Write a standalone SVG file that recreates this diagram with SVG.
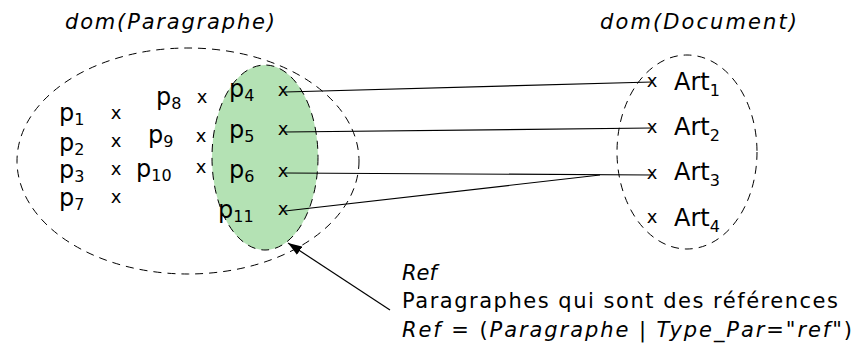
<svg xmlns="http://www.w3.org/2000/svg" width="853" height="344" viewBox="0 0 853 344">
<style>
.set{fill:none;stroke:#000;stroke-width:1;stroke-dasharray:8 6}
.ref{fill:#b4e2b4;stroke:#000;stroke-width:1;stroke-dasharray:8 6}
text{font-family:"DejaVu Sans","Liberation Sans",sans-serif;fill:#000}
.p{font-size:24px}
.sub{font-size:16px}
.x{font-size:18px;text-anchor:middle}
.art{font-size:24px}
.title{font-size:21px;font-style:italic}
.lbl{font-size:21px}
.it{font-style:italic}
.conn{stroke:#000;stroke-width:1.2;fill:none}
</style>
<defs>
<marker id="arr" markerUnits="userSpaceOnUse" viewBox="0 0 14 10" refX="14" refY="5" markerWidth="14" markerHeight="10" orient="auto">
<path d="M0,0 L14,5 L0,10 z" fill="#000"/>
</marker>
</defs>
<rect width="853" height="344" fill="#fff"/>

<g id="ref-set">
<ellipse class="ref" cx="265" cy="157.5" rx="53" ry="92.5"/>
</g>
<g id="dom-paragraphe">
<ellipse class="set" cx="188" cy="161" rx="171" ry="113"/>
<text class="title" x="65" y="29" textLength="210" lengthAdjust="spacing">dom(Paragraphe)</text>
</g>
<g id="dom-document">
<ellipse class="set" cx="687" cy="152" rx="70" ry="97"/>
<text class="title" x="600" y="29" textLength="197" lengthAdjust="spacing">dom(Document)</text>
</g>

<g id="p1"><text class="p" x="59" y="121">p<tspan class="sub" dy="4">1</tspan></text><text class="x" x="116" y="119">x</text></g>
<g id="p2"><text class="p" x="59" y="151">p<tspan class="sub" dy="4">2</tspan></text><text class="x" x="116" y="147">x</text></g>
<g id="p3"><text class="p" x="59" y="178">p<tspan class="sub" dy="4">3</tspan></text><text class="x" x="116" y="175">x</text></g>
<g id="p7"><text class="p" x="59" y="206">p<tspan class="sub" dy="4">7</tspan></text><text class="x" x="116" y="203">x</text></g>
<g id="p8"><text class="p" x="156" y="105">p<tspan class="sub" dy="4">8</tspan></text><text class="x" x="202" y="103">x</text></g>
<g id="p9"><text class="p" x="148" y="143">p<tspan class="sub" dy="4">9</tspan></text><text class="x" x="201" y="142">x</text></g>
<g id="p10"><text class="p" x="136" y="177">p<tspan class="sub" dy="4">10</tspan></text><text class="x" x="201" y="173">x</text></g>
<g id="p4"><text class="p" x="229" y="97">p<tspan class="sub" dy="4">4</tspan></text><text class="x" x="283" y="96">x</text></g>
<g id="p5"><text class="p" x="229" y="138">p<tspan class="sub" dy="4">5</tspan></text><text class="x" x="283" y="135">x</text></g>
<g id="p6"><text class="p" x="229" y="178">p<tspan class="sub" dy="4">6</tspan></text><text class="x" x="283" y="177">x</text></g>
<g id="p11"><text class="p" x="218" y="218">p<tspan class="sub" dy="4">11</tspan></text><text class="x" x="283" y="215">x</text></g>

<g id="art1"><text class="x" x="652" y="87">x</text><text class="art" x="674" y="90">Art<tspan class="sub" dy="6">1</tspan></text></g>
<g id="art2"><text class="x" x="652" y="133">x</text><text class="art" x="674" y="135">Art<tspan class="sub" dy="6">2</tspan></text></g>
<g id="art3"><text class="x" x="652" y="179">x</text><text class="art" x="674" y="180">Art<tspan class="sub" dy="6">3</tspan></text></g>
<g id="art4"><text class="x" x="652" y="223">x</text><text class="art" x="674" y="226">Art<tspan class="sub" dy="6">4</tspan></text></g>

<g id="connectors">
<line class="conn" x1="285" y1="92" x2="652" y2="82"/>
<line class="conn" x1="285" y1="132" x2="652" y2="128"/>
<line class="conn" x1="285" y1="173" x2="652" y2="175"/>
<line class="conn" x1="285" y1="211" x2="600" y2="175"/>
<line class="conn" x1="390" y1="310" x2="288" y2="243" marker-end="url(#arr)"/>
</g>

<g id="annotation">
<text class="lbl it" x="402" y="280">Ref</text>
<text class="lbl" x="402" y="308" textLength="436" lengthAdjust="spacing">Paragraphes qui sont des références</text>
<text class="lbl" x="402" y="337" textLength="450" lengthAdjust="spacing"><tspan class="it">Ref</tspan> = (<tspan class="it">Paragraphe</tspan> | <tspan class="it">Type_Par</tspan>="<tspan class="it">ref</tspan>")</text>
</g>
</svg>
